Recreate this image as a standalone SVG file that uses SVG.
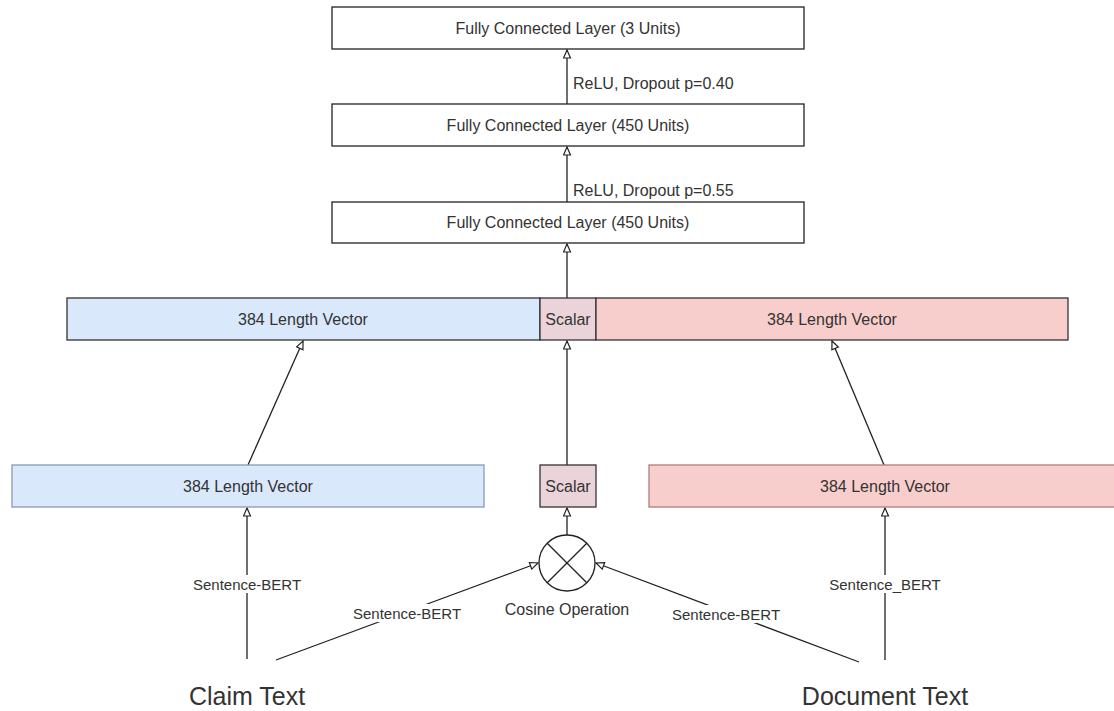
<svg xmlns="http://www.w3.org/2000/svg" width="1114" height="711" viewBox="0 0 1114 711">
<style>
text{font-family:"Liberation Sans",Arial,sans-serif;fill:#333;text-anchor:middle;dominant-baseline:central}
.box{font-size:16px}
.lbl{font-size:15px}
.big{font-size:25px}
.fc{fill:#fff;stroke:#222;stroke-width:1.3}
.dark{stroke:#333;stroke-width:1.3}
.blue{fill:#dae8fc}
.pink{fill:#f8cecc}
.scal{fill:#ead3d9}
.blue3{fill:#dae8fc;stroke:#8a9ab2;stroke-width:1.3}
.pink3{fill:#f8cecc;stroke:#b07c7c;stroke-width:1.3}
.edge{stroke:#222;stroke-width:1.3;fill:none}
.arr{marker-end:url(#tri)}
.bg{fill:#fff}
</style>
<defs>
<marker id="tri" markerUnits="userSpaceOnUse" viewBox="-1 -1 10 9" markerWidth="10" markerHeight="9" refX="8" refY="3.5" orient="auto">
<path d="M0,0 L8,3.5 L0,7 Z" fill="#fff" stroke="#222" stroke-width="1.2"/>
</marker>
</defs>
<rect width="1114" height="711" fill="#fff"/>

<g id="connectors">
<line class="edge arr" x1="567" y1="104" x2="567" y2="50"/>
<line class="edge arr" x1="567" y1="202" x2="567" y2="147"/>
<line class="edge arr" x1="567" y1="298" x2="567" y2="244"/>
<line class="edge arr" x1="248" y1="465" x2="303" y2="341"/>
<line class="edge arr" x1="567" y1="465" x2="567" y2="341"/>
<line class="edge arr" x1="884" y1="465" x2="832" y2="341"/>
<line class="edge arr" x1="567" y1="535" x2="567" y2="508"/>
<line class="edge arr" x1="247" y1="659" x2="247" y2="508"/>
<line class="edge arr" x1="885" y1="660" x2="885" y2="508"/>
<line class="edge arr" x1="276" y1="660" x2="538" y2="563"/>
<line class="edge arr" x1="859" y1="662" x2="596" y2="563"/>
<text class="box" x="573" y="83" style="text-anchor:start">ReLU, Dropout p=0.40</text>
<text class="box" x="573" y="190" style="text-anchor:start">ReLU, Dropout p=0.55</text>
<rect class="bg" x="190" y="575" width="114" height="18"/>
<text class="lbl" x="247" y="584">Sentence-BERT</text>
<rect class="bg" x="350" y="604" width="114" height="18"/>
<text class="lbl" x="407" y="613">Sentence-BERT</text>
<rect class="bg" x="669" y="605" width="114" height="18"/>
<text class="lbl" x="726" y="614">Sentence-BERT</text>
<rect class="bg" x="828" y="575" width="114" height="18"/>
<text class="lbl" x="885" y="584">Sentence_BERT</text>
</g>

<g id="fc3">
<rect class="fc" x="332" y="7" width="472" height="42"/>
<text class="box" x="568" y="28">Fully Connected Layer (3 Units)</text>
</g>
<g id="fc450a">
<rect class="fc" x="332" y="104" width="472" height="42"/>
<text class="box" x="568" y="125">Fully Connected Layer (450 Units)</text>
</g>
<g id="fc450b">
<rect class="fc" x="332" y="202" width="472" height="41"/>
<text class="box" x="568" y="222">Fully Connected Layer (450 Units)</text>
</g>

<g id="concat-claim">
<rect class="blue dark" x="67" y="298" width="473" height="42"/>
<text class="box" x="303" y="319">384 Length Vector</text>
</g>
<g id="concat-scalar">
<rect class="scal dark" x="540" y="298" width="56" height="42"/>
<text class="box" x="568" y="319">Scalar</text>
</g>
<g id="concat-doc">
<rect class="pink dark" x="596" y="298" width="472" height="42"/>
<text class="box" x="832" y="319">384 Length Vector</text>
</g>

<g id="claim-vec">
<rect class="blue3" x="12" y="465" width="472" height="42"/>
<text class="box" x="248" y="486">384 Length Vector</text>
</g>
<g id="scalar">
<rect class="scal dark" x="540" y="465" width="56" height="42"/>
<text class="box" x="568" y="486">Scalar</text>
</g>
<g id="doc-vec">
<rect class="pink3" x="649" y="465" width="472" height="42"/>
<text class="box" x="885" y="486">384 Length Vector</text>
</g>

<g id="cosine">
<circle cx="567" cy="563" r="28" fill="#fff" stroke="#222" stroke-width="1.3"/>
<line x1="547.2" y1="543.2" x2="586.8" y2="582.8" stroke="#222" stroke-width="1.3"/>
<line x1="586.8" y1="543.2" x2="547.2" y2="582.8" stroke="#222" stroke-width="1.3"/>
<text class="box" x="567" y="609">Cosine Operation</text>
</g>

<g id="claim-text">
<text class="big" x="247" y="696">Claim Text</text>
</g>
<g id="doc-text">
<text class="big" x="885" y="696">Document Text</text>
</g>
</svg>
